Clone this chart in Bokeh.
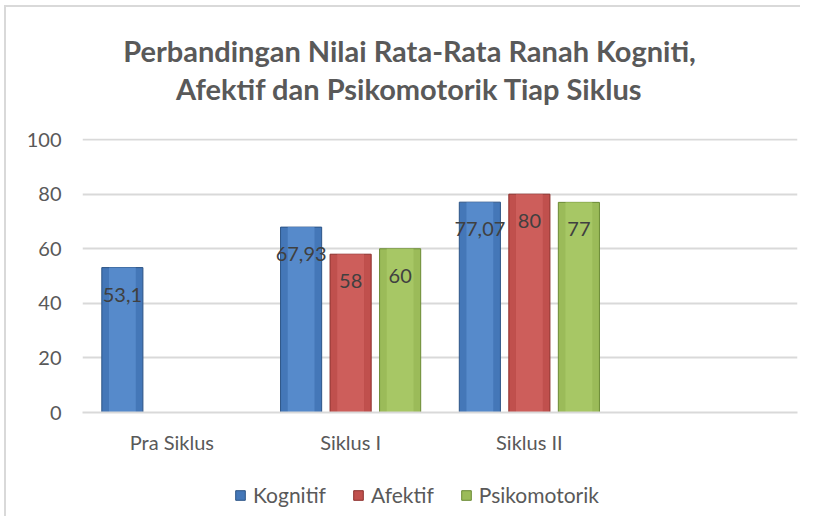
from bokeh.plotting import figure
from bokeh.layouts import column
from bokeh.models import (ColumnDataSource, FactorRange, Legend, LegendItem,
                          FixedTicker, Range1d)
from bokeh.core.properties import value
from bokeh.transform import dodge
from bokeh.embed import file_html
from bokeh.resources import INLINE

categories = ["Pra Siklus", "Siklus I", "Siklus II", " "]
series_names = ["Kognitif", "Afektif", "Psikomotorik"]
kognitif = [53.1, 67.93, 77.07, None]
afektif = [None, 58, 80, None]
psikomotorik = [None, 60, 77, None]
y_ticks = [0, 20, 40, 60, 80, 100]
title_lines = ["Perbandingan Nilai Rata-Rata Ranah Kogniti,",
               "Afektif dan Psikomotorik Tiap Siklus"]

colors = ["#4477b8", "#c0504d", "#9bbb59"]
light_colors = ["#5b8fd0", "#d0625f", "#aacb68"]
edge_colors = ["#2c5486", "#8c2f2c", "#6a8a34"]
offsets = [-0.277, 0.0, 0.277]
FONT = "Lato"
TEXT_GREY = "#595959"
BORDERS = dict(min_border_left=76, min_border_right=3)

# ---------------- header (title) ----------------
head = figure(frame_width=715, frame_height=99, x_range=Range1d(0, 715),
              y_range=Range1d(0, 99), x_axis_type=None, y_axis_type=None,
              output_backend="svg", toolbar_location=None,
              min_border_top=0, min_border_bottom=0, **BORDERS)
head.outline_line_color = None
head.grid.grid_line_color = None
head.text(x=[327, 327], y=[99 - 43, 99 - 81], text=title_lines,
          text_align="center", text_baseline="middle", text_font=value(FONT),
          text_font_size="29px", text_font_style="bold", text_color=TEXT_GREY)

# ---------------- main chart ----------------
p = figure(x_range=FactorRange(*categories), y_range=Range1d(0, 100.4),
           frame_width=715, frame_height=274, output_backend="svg", toolbar_location=None,
           min_border_top=32, min_border_bottom=60, **BORDERS)
p.outline_line_color = None
p.background_fill_color = "white"
p.border_fill_color = "white"

for name, vals, col, lcol, ecol, off in zip(series_names,
                                             [kognitif, afektif, psikomotorik],
                                             colors, light_colors, edge_colors, offsets):
    xs = [c for c, v in zip(categories, vals) if v is not None]
    ys = [v for v in vals if v is not None]
    labels = [("%g" % v).replace(".", ",") for v in ys]
    src = ColumnDataSource(dict(x=xs, top=ys, label=labels))
    p.vbar(x=dodge("x", off, range=p.x_range), top="top", width=0.23, source=src,
           fill_color=col, line_color=ecol, line_width=1)
    p.vbar(x=dodge("x", off, range=p.x_range), top="top", width=0.15, source=src,
           fill_color=lcol, line_color=None, fill_alpha=0.8)
    p.text(x=dodge("x", off, range=p.x_range), y="top", text="label", source=src,
           text_align="center", text_baseline="middle", y_offset=27,
           text_font=value(FONT), text_font_size="20px", text_color="#404040")

p.yaxis.ticker = FixedTicker(ticks=y_ticks)
p.yaxis.axis_line_color = None
p.yaxis.major_tick_line_color = None
p.yaxis.minor_tick_line_color = None
p.yaxis.major_label_standoff = 15
p.yaxis.major_label_text_font = FONT
p.yaxis.major_label_text_font_size = "20px"
p.yaxis.major_label_text_color = TEXT_GREY

p.xaxis.axis_line_color = "#d9d9d9"
p.xaxis.axis_line_width = 2
p.xaxis.major_tick_line_color = None
p.xaxis.minor_tick_line_color = None
p.xaxis.major_label_standoff = 11
p.xaxis.major_label_text_font = FONT
p.xaxis.major_label_text_font_size = "20px"
p.xaxis.major_label_text_color = TEXT_GREY

p.xgrid.grid_line_color = None
p.ygrid.grid_line_color = "#d9d9d9"
p.ygrid.grid_line_width = 2

# ---------------- legend strip ----------------
leg = figure(frame_width=715, frame_height=44, x_range=Range1d(0, 1), y_range=Range1d(1, 2),
             x_axis_type=None, y_axis_type=None, output_backend="svg",
             toolbar_location=None, min_border_top=0, min_border_bottom=0, **BORDERS)
leg.outline_line_color = None
leg.grid.grid_line_color = None
items = []
for name, col, ecol in zip(series_names, colors, edge_colors):
    # legend proxy (lies outside the visible range; only its swatch is shown)
    r = leg.vbar(x=[0.5], top=[0], bottom=[0], width=0.1, fill_color=col, line_color=ecol)
    items.append(LegendItem(label=name, renderers=[r]))
legend = Legend(items=items, orientation="horizontal", location=(152, 9),
                glyph_width=12, glyph_height=12, label_standoff=7, spacing=26,
                label_text_font=FONT, label_text_font_size="21px",
                label_text_color=TEXT_GREY, border_line_color=None,
                background_fill_alpha=0, padding=0, margin=0)
leg.add_layout(legend)

layout = column(head, p, leg, spacing=0,
                styles={"border-left": "2px solid #d9d9d9",
                        "border-top": "2px solid #d9d9d9",
                        "margin-left": "4px", "margin-top": "5px"})

open("out.html", "w").write(file_html(layout, INLINE))
